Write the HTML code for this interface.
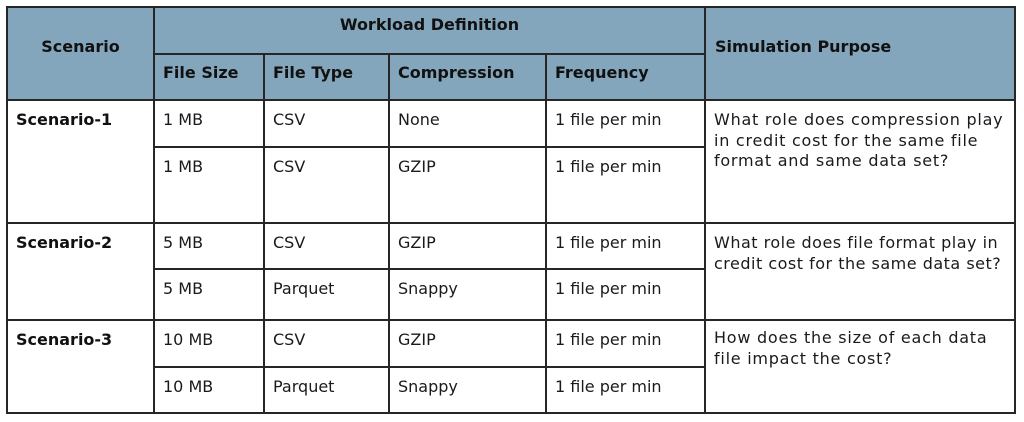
<!DOCTYPE html>
<html><head><meta charset="utf-8"><style>
html,body{margin:0;padding:0;background:#fff;width:1024px;height:422px;overflow:hidden}
body{position:relative;font-family:"DejaVu Sans","Liberation Sans",sans-serif;font-size:16px;color:#1a1a1a}
.bg{position:absolute;background:#84a6bc}
.h{position:absolute;height:2px;background:#262626}
.v{position:absolute;width:2px;background:#262626}
.t{position:absolute;line-height:20.5px;white-space:nowrap}
.b{font-weight:bold;color:#111}
.p{letter-spacing:0.75px}
</style></head><body>
<div class="bg" style="left:7px;top:7px;width:1008px;height:93px"></div>

<!-- horizontal lines -->
<div class="h" style="left:6px;top:6px;width:1010px"></div>
<div class="h" style="left:154px;top:53px;width:551px"></div>
<div class="h" style="left:6px;top:99px;width:1010px"></div>
<div class="h" style="left:154px;top:146px;width:551px"></div>
<div class="h" style="left:6px;top:222px;width:1010px"></div>
<div class="h" style="left:154px;top:268px;width:551px"></div>
<div class="h" style="left:6px;top:319px;width:1010px"></div>
<div class="h" style="left:154px;top:366px;width:551px"></div>
<div class="h" style="left:6px;top:412px;width:1010px"></div>

<!-- vertical lines -->
<div class="v" style="left:6px;top:6px;height:408px"></div>
<div class="v" style="left:153px;top:6px;height:408px"></div>
<div class="v" style="left:263px;top:53px;height:361px"></div>
<div class="v" style="left:388px;top:53px;height:361px"></div>
<div class="v" style="left:545px;top:53px;height:361px"></div>
<div class="v" style="left:704px;top:6px;height:408px"></div>
<div class="v" style="left:1014px;top:6px;height:408px"></div>

<!-- header -->
<div class="t b" style="left:7px;width:147px;text-align:center;top:37px">Scenario</div>
<div class="t b" style="left:154px;width:551px;text-align:center;top:15px">Workload Definition</div>
<div class="t b" style="left:163px;top:63px">File Size</div>
<div class="t b" style="left:273px;top:63px">File Type</div>
<div class="t b" style="left:398px;top:63px">Compression</div>
<div class="t b" style="left:555px;top:63px">Frequency</div>
<div class="t b" style="left:715px;top:37px">Simulation Purpose</div>

<!-- row 1 -->
<div class="t b" style="left:16px;top:110px">Scenario-1</div>
<div class="t" style="left:163px;top:110px">1 MB</div>
<div class="t" style="left:273px;top:110px">CSV</div>
<div class="t" style="left:398px;top:110px">None</div>
<div class="t" style="left:555px;top:110px">1 file per min</div>
<div class="t" style="left:163px;top:157px">1 MB</div>
<div class="t" style="left:273px;top:157px">CSV</div>
<div class="t" style="left:398px;top:157px">GZIP</div>
<div class="t" style="left:555px;top:157px">1 file per min</div>
<div class="t p" style="left:714px;top:110px">What role does compression play<br>in credit cost for the same file<br>format and same data set?</div>

<!-- row 2 -->
<div class="t b" style="left:16px;top:233px">Scenario-2</div>
<div class="t" style="left:163px;top:233px">5 MB</div>
<div class="t" style="left:273px;top:233px">CSV</div>
<div class="t" style="left:398px;top:233px">GZIP</div>
<div class="t" style="left:555px;top:233px">1 file per min</div>
<div class="t" style="left:163px;top:279px">5 MB</div>
<div class="t" style="left:273px;top:279px">Parquet</div>
<div class="t" style="left:398px;top:279px">Snappy</div>
<div class="t" style="left:555px;top:279px">1 file per min</div>
<div class="t" style="left:714px;top:233px;letter-spacing:0.5px">What role does file format play in<br>credit cost for the same data set?</div>

<!-- row 3 -->
<div class="t b" style="left:16px;top:330px">Scenario-3</div>
<div class="t" style="left:163px;top:330px">10 MB</div>
<div class="t" style="left:273px;top:330px">CSV</div>
<div class="t" style="left:398px;top:330px">GZIP</div>
<div class="t" style="left:555px;top:330px">1 file per min</div>
<div class="t" style="left:163px;top:377px">10 MB</div>
<div class="t" style="left:273px;top:377px">Parquet</div>
<div class="t" style="left:398px;top:377px">Snappy</div>
<div class="t" style="left:555px;top:377px">1 file per min</div>
<div class="t p" style="left:714px;top:328px">How does the size of each data<br>file impact the cost?</div>
</body></html>
